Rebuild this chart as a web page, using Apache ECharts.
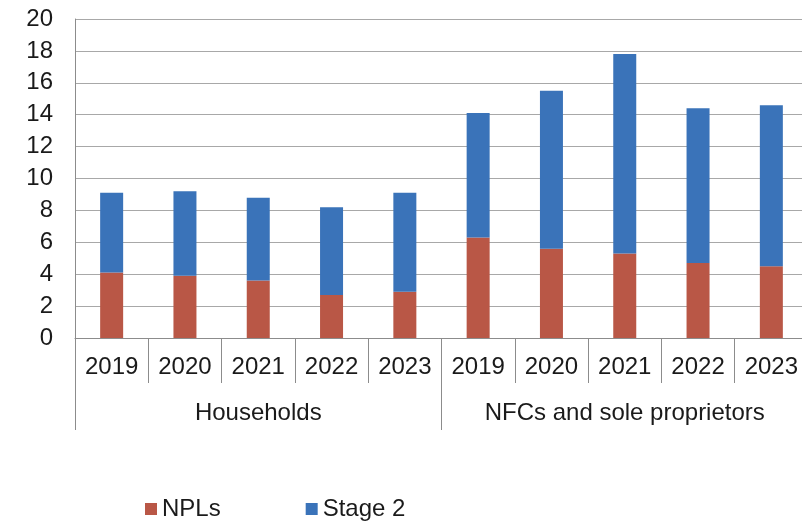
<!DOCTYPE html>
<html>
<head>
<meta charset="utf-8">
<script src="https://cdn.jsdelivr.net/npm/echarts@6/dist/echarts.min.js"></script>
<style>
    html, body { margin: 0; padding: 0; background: #fff; }
    #chart { width: 802px; height: 521px; }
</style>
</head>
<body>
<div id="chart"></div>
<script>
    // years repeat for each sector group
    var years = ['2019', '2020', '2021', '2022', '2023', '2019', '2020', '2021', '2022', '2023'];
    var groups = ['Households', 'NFCs and sole proprietors'];
    var npls = [4.1, 3.9, 3.6, 2.7, 2.9, 6.3, 5.6, 5.3, 4.7, 4.5];
    var stage2 = [5.0, 5.3, 5.2, 5.5, 6.2, 7.8, 9.9, 12.5, 9.7, 10.1];

    var chart = echarts.init(document.getElementById('chart'));
    var textFont = {
        fontFamily: 'Liberation Sans, Arial, sans-serif',
        fontSize: 24,
        color: '#1a1a1a'
    };
    var option = {
        animation: false,
        grid: {
            left: 75,
            top: 19,
            width: 733,
            height: 319,
            outerBoundsMode: 'none'
        },
        legend: {
            data: ['NPLs', 'Stage 2'],
            left: 140,
            top: 492,
            itemWidth: 12,
            itemHeight: 12,
            itemGap: 85,
            icon: 'rect',
            textStyle: textFont
        },
        xAxis: [
            {
                type: 'category',
                data: years,
                position: 'bottom',
                axisLine: {
                    lineStyle: {color: '#8c8c8c', width: 1}
                },
                axisTick: {
                    show: true,
                    length: 45,
                    interval: 0,
                    lineStyle: {color: '#8c8c8c', width: 1}
                },
                axisLabel: Object.assign({interval: 0, margin: 17}, textFont)
            },
            {
                type: 'category',
                data: groups,
                position: 'bottom',
                axisLine: {show: false},
                axisTick: {
                    show: true,
                    length: 92,
                    interval: 0,
                    lineStyle: {color: '#8c8c8c', width: 1}
                },
                axisLabel: Object.assign({interval: 0, margin: 63}, textFont)
            }
        ],
        yAxis: {
            type: 'value',
            min: 0,
            max: 20,
            interval: 2,
            axisLine: {
                show: true,
                lineStyle: {color: '#8c8c8c', width: 1}
            },
            axisTick: {show: false},
            axisLabel: Object.assign({margin: 22}, textFont),
            splitLine: {
                show: true,
                lineStyle: {color: '#a8a8a8', width: 1}
            }
        },
        series: [
            {
                name: 'NPLs',
                type: 'bar',
                stack: 'total',
                barWidth: 23,
                data: npls,
                itemStyle: {color: '#b95746'}
            },
            {
                name: 'Stage 2',
                type: 'bar',
                stack: 'total',
                barWidth: 23,
                data: stage2,
                itemStyle: {color: '#3a73b9'}
            }
        ]
    };
    chart.setOption(option);
</script>
</body>
</html>
